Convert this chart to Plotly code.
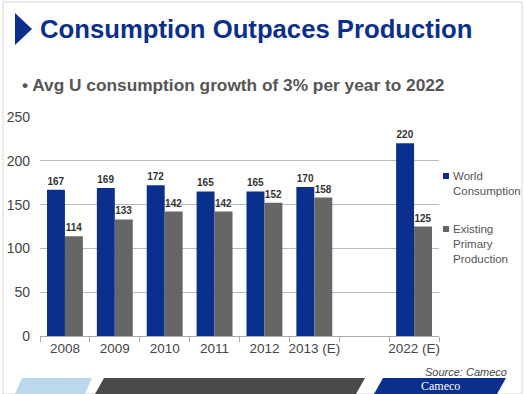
import plotly.graph_objects as go

categories = ["2008", "2009", "2010", "2011", "2012", "2013 (E)", " ", "2022 (E)"]
world_consumption = [167, 169, 172, 165, 165, 170, None, 220]
primary_production = [114, 133, 142, 142, 152, 158, None, 125]
series_names = ["World<br>Consumption", "Existing<br>Primary<br>Production"]

BLUE = "#0b2f8c"
GREY = "#666666"
series_colors = [BLUE, GREY]

def labels(vals):
    return ["" if v is None else str(v) for v in vals]

fig = go.Figure()
for name, vals, col in zip(series_names, [world_consumption, primary_production], series_colors):
    fig.add_trace(go.Bar(x=categories, y=vals, name=name,
                         marker=dict(color=col, line=dict(width=0)),
                         text=labels(vals), textposition="outside",
                         textfont=dict(size=10, color="#333333", family="Liberation Sans, Arial", weight="bold"),
                         cliponaxis=False, showlegend=False))

W, H = 525, 394
ml, mr, mt, mb = 40, 86, 117, 58

fig.update_layout(
    width=W, height=H,
    margin=dict(l=ml, r=mr, t=mt, b=mb, pad=0, autoexpand=False),
    paper_bgcolor="white", plot_bgcolor="white",
    barmode="group", bargap=0.28, bargroupgap=0,
    font=dict(family="Liberation Sans, Arial", color="#444444"),
    showlegend=False,
    uniformtext=dict(minsize=10, mode="show"),
)
fig.update_xaxes(type="category", categoryorder="array", categoryarray=categories,
                 showline=True, linecolor="#aaaaaa", linewidth=1, automargin=False, tickangle=0,
                 ticks="outside", tickson="boundaries", ticklen=5, tickcolor="#aaaaaa",
                 tickfont=dict(size=13.5, color="#444444"), showgrid=False)
fig.update_yaxes(range=[0, 250], dtick=50, showgrid=True, gridcolor="#bbbbbb", gridwidth=1,
                 zeroline=False, ticks="", tickfont=dict(size=14, color="#444444"), automargin=False,
                 ticklabelstandoff=9)

pw, ph = W - ml - mr, H - mt - mb
def px(x): return (x - ml) / pw
def py(y): return (H - mb - y) / ph

# legend (drawn manually to match the compact slide legend)
legend_tops = [176, 229]
for name, col, ty in zip(series_names, series_colors, legend_tops):
    fig.add_shape(type="rect", xref="paper", yref="paper",
                  x0=px(443), x1=px(449), y0=py(ty - 3), y1=py(ty + 3),
                  fillcolor=col, line=dict(width=0))
    fig.add_annotation(text=name, xref="paper", yref="paper", x=px(451), y=py(ty - 8),
                       xanchor="left", yanchor="top", align="left", showarrow=False,
                       font=dict(size=11.5, color="#555555", family="Liberation Sans, Arial"))

# slide border
fig.add_shape(type="rect", xref="paper", yref="paper", x0=px(3), x1=px(522), y0=py(394), y1=py(2),
              line=dict(color="#d8d8d8", width=1), layer="below")

# title triangle
fig.add_shape(type="path", xref="paper", yref="paper",
              path=f"M {px(15)} {py(13)} L {px(32)} {py(29)} L {px(15)} {py(45)} Z",
              fillcolor=BLUE, line=dict(width=0))
fig.add_annotation(text="<b>Consumption Outpaces Production</b>", xref="paper", yref="paper",
                   x=px(38), y=py(29), xanchor="left", yanchor="middle", showarrow=False,
                   font=dict(size=25.7, color=BLUE, family="Liberation Sans, Arial"))
fig.add_annotation(text="<b>• Avg U consumption growth of 3% per year to 2022</b>", xref="paper", yref="paper",
                   x=px(20), y=py(85), xanchor="left", yanchor="middle", showarrow=False,
                   font=dict(size=17.3, color="#555555", family="Liberation Sans, Arial"))
fig.add_annotation(text="<i>Source: Cameco</i>", xref="paper", yref="paper",
                   x=px(509), y=py(372), xanchor="right", yanchor="middle", showarrow=False,
                   font=dict(size=11, color="#444444", family="Liberation Sans, Arial"))

# bottom decorative bars
def para(x0, x1, y0, y1, slant, color):
    return dict(type="path", xref="paper", yref="paper",
                path=f"M {px(x0+slant)} {py(y0)} L {px(x1+slant)} {py(y0)} L {px(x1)} {py(y1)} L {px(x0)} {py(y1)} Z",
                fillcolor=color, line=dict(width=0))
fig.add_shape(**para(15, 85, 378, 394, 7, "#bcd8ec"))
fig.add_shape(**para(95, 356, 378, 394, 9, "#4a4a4a"))
fig.add_shape(**para(374, 497, 378, 394, 9, BLUE))
fig.add_annotation(text="Cameco", xref="paper", yref="paper",
                   x=px(440), y=py(386), xanchor="center", yanchor="middle", showarrow=False,
                   font=dict(size=12, color="white", family="Liberation Serif, Times New Roman"))

fig.write_html("out.html", config={"displayModeBar": False},
               post_script="document.body.style.margin='0';document.body.style.overflow='hidden';")
